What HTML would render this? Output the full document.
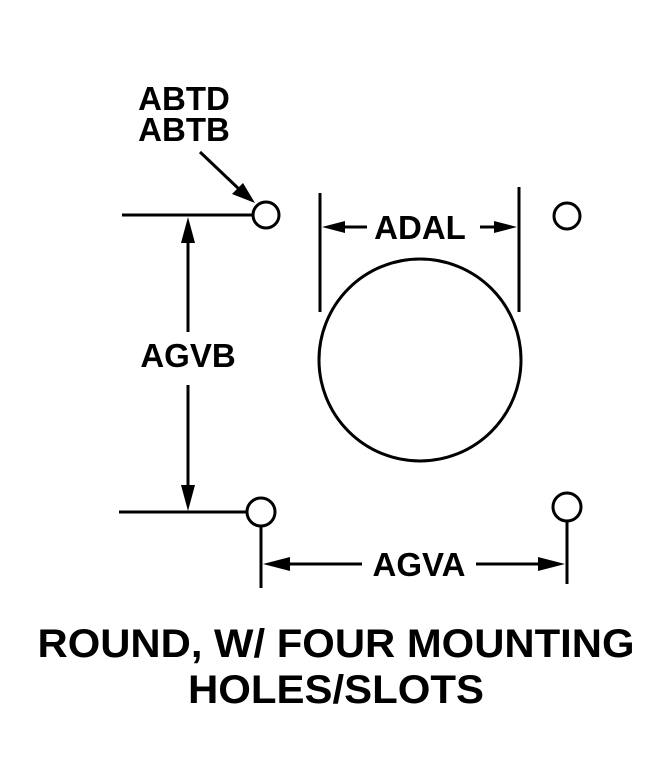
<!DOCTYPE html>
<html><head><style>html,body{margin:0;padding:0;background:#fff}</style></head><body>
<svg width="668" height="768" viewBox="0 0 668 768" xmlns="http://www.w3.org/2000/svg">
<g fill="none" stroke="#000" stroke-width="3">
<circle cx="266" cy="215" r="13"/>
<circle cx="567" cy="216" r="13"/>
<circle cx="261" cy="512" r="14"/>
<circle cx="567" cy="507" r="14"/>
<circle cx="420" cy="360" r="101"/>
<line x1="122" y1="215" x2="253" y2="215"/>
<line x1="119" y1="512" x2="247" y2="512"/>
<line x1="188" y1="240" x2="188" y2="332"/>
<line x1="188" y1="385" x2="188" y2="488"/>
<line x1="320" y1="193" x2="320" y2="312"/>
<line x1="519" y1="187" x2="519" y2="312"/>
<line x1="340" y1="227" x2="367" y2="227"/>
<line x1="480" y1="227" x2="500" y2="227"/>
<line x1="261" y1="526" x2="261" y2="588"/>
<line x1="567" y1="521" x2="567" y2="584"/>
<line x1="285" y1="564" x2="362" y2="564"/>
<line x1="476" y1="564" x2="545" y2="564"/>
<line x1="200" y1="152" x2="240" y2="190"/>
</g>
<g fill="#000">
<polygon points="188,217 181,243 195,243"/>
<polygon points="188,511 181,485 195,485"/>
<polygon points="322,227 345,221 345,233"/>
<polygon points="517,227 494,221 494,233"/>
<polygon points="263,564 290,557 290,571"/>
<polygon points="565,564 538,557 538,571"/>
<polygon points="255,203 232,194 243,183"/>
</g>
<g font-family="Liberation Sans, sans-serif" font-weight="bold" fill="#000">
<text x="184" y="110" font-size="33" text-anchor="middle">ABTD</text>
<text x="184" y="141" font-size="33" text-anchor="middle">ABTB</text>
<text x="188" y="367" font-size="33" text-anchor="middle">AGVB</text>
<text x="420" y="239" font-size="33" text-anchor="middle">ADAL</text>
<text x="419" y="576" font-size="33" text-anchor="middle">AGVA</text>
<text x="336" y="657" font-size="40" text-anchor="middle" textLength="597" lengthAdjust="spacingAndGlyphs">ROUND, W/ FOUR MOUNTING</text>
<text x="336" y="703" font-size="40" text-anchor="middle" textLength="296" lengthAdjust="spacingAndGlyphs">HOLES/SLOTS</text>
</g>
</svg>
</body></html>
